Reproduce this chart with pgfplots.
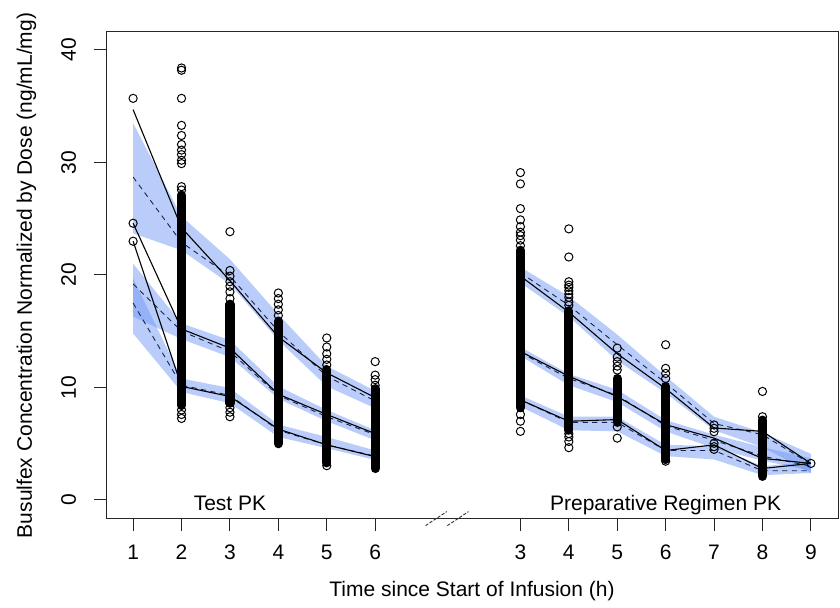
\documentclass[border=0pt]{standalone}
\usepackage{fontspec}
\setmainfont{Liberation Sans}
\usepackage{pgfplots}
\pgfplotsset{compat=1.18}
\usetikzlibrary{calc}
\definecolor{band}{RGB}{110,150,245}
\definecolor{dashc}{RGB}{25,35,80}

\begin{document}
\begin{tikzpicture}[font=\fontsize{10.5}{12.6}\selectfont]
\begin{axis}[name=ax, scale only axis, width=366pt, height=243.5pt,
  xmin=0.44, xmax=15.56, ymin=-1.69, ymax=41.6,
  xtick={1,2,3,4,5,6,9,10,11,12,13,14,15},
  xticklabels={1,2,3,4,5,6,3,4,5,6,7,8,9},
  ytick={0,10,20,30,40},
  tick align=outside, xtick pos=bottom, ytick pos=left,
  major tick length=6pt,
  axis line style={black!85, line width=0.5pt},
  every tick/.style={black!85, line width=0.5pt},
  /pgf/number format/assume math mode=true,
  xticklabel style={yshift=-14.5pt, anchor=base, inner sep=0pt},
  yticklabel style={xshift=-9pt, rotate=90, anchor=base, inner sep=0pt},
  unbounded coords=jump,
  clip=false,
]
% 90% CI bands, test PK
\addplot[fill=band, fill opacity=0.48, draw=none] coordinates {(1,33.5)(2,25.2)(3,21.4)(4,16.5)(5,11.9)(6,9.7)(6,8.15)(5,10.1)(4,14.2)(3,19.2)(2,22.2)(1,23.7)} -- cycle;
\addplot[fill=band, fill opacity=0.48, draw=none] coordinates {(1,21.0)(2,15.7)(3,14.2)(4,10.1)(5,8.0)(6,6.2)(6,5.3)(5,7.0)(4,9.0)(3,12.7)(2,14.3)(1,16.3)} -- cycle;
\addplot[fill=band, fill opacity=0.48, draw=none] coordinates {(1,19.7)(2,10.8)(3,9.95)(4,6.7)(5,5.6)(6,4.4)(6,3.55)(5,4.6)(4,5.6)(3,8.6)(2,9.6)(1,14.8)} -- cycle;
% 90% CI bands, preparative regimen PK
\addplot[fill=band, fill opacity=0.48, draw=none] coordinates {(9,20.7)(10,18.1)(11,14.7)(12,11.0)(13,7.4)(14,6.0)(15,4.1)(15,2.4)(14,4.7)(13,6.2)(12,9.5)(11,12.4)(10,16.3)(9,19.3)} -- cycle;
\addplot[fill=band, fill opacity=0.48, draw=none] coordinates {(9,13.6)(10,11.2)(11,9.8)(12,7.1)(13,5.8)(14,4.7)(15,3.7)(15,2.6)(14,3.5)(13,4.6)(12,6.1)(11,8.7)(10,10.2)(9,12.8)} -- cycle;
\addplot[fill=band, fill opacity=0.48, draw=none] coordinates {(9,9.3)(10,7.4)(11,7.4)(12,4.9)(13,4.8)(14,3.0)(15,3.4)(15,2.4)(14,2.2)(13,3.6)(12,3.9)(11,6.1)(10,6.2)(9,8.3)} -- cycle;

% predicted percentiles (dashed)
\addplot[dashc, line width=0.45pt, dash pattern=on 2.6pt off 2.2pt] coordinates {(1,28.7)(2,22.9)(3,19.9)(4,15.0)(5,11.0)(6,8.8)};
\addplot[dashc, line width=0.45pt, dash pattern=on 2.6pt off 2.2pt] coordinates {(1,19.2)(2,15.0)(3,13.2)(4,9.3)(5,7.4)(6,5.8)};
\addplot[dashc, line width=0.45pt, dash pattern=on 2.6pt off 2.2pt] coordinates {(1,17.5)(2,10.2)(3,9.3)(4,6.2)(5,4.9)(6,3.9)};
\addplot[dashc, line width=0.45pt, dash pattern=on 2.6pt off 2.2pt] coordinates {(9,20.2)(10,17.3)(11,13.8)(12,10.4)(13,6.8)(14,5.8)(15,3.2)};
\addplot[dashc, line width=0.45pt, dash pattern=on 2.6pt off 2.2pt] coordinates {(9,13.1)(10,10.8)(11,9.3)(12,6.6)(13,5.3)(14,3.9)(15,3.0)};
\addplot[dashc, line width=0.45pt, dash pattern=on 2.6pt off 2.2pt] coordinates {(9,8.9)(10,6.9)(11,6.9)(12,4.4)(13,4.4)(14,2.6)(15,2.6)};

% observed percentiles (solid)
\addplot[black, line width=0.55pt] coordinates {(1,34.7)(2,24.2)(3,19.5)(4,14.5)(5,11.3)(6,9.1)};
\addplot[black, line width=0.55pt] coordinates {(1,24.6)(2,15.2)(3,13.5)(4,9.4)(5,7.6)(6,5.9)};
\addplot[black, line width=0.55pt] coordinates {(1,23.0)(2,10.1)(3,9.2)(4,6.3)(5,4.9)(6,3.85)};
\addplot[black, line width=0.55pt] coordinates {(9,19.9)(10,16.7)(11,13.0)(12,9.9)(13,6.4)(14,6.1)(15,3.25)};
\addplot[black, line width=0.55pt] coordinates {(9,13.2)(10,11.0)(11,9.2)(12,6.7)(13,5.5)(14,3.7)(15,3.25)};
\addplot[black, line width=0.55pt] coordinates {(9,8.9)(10,7.0)(11,7.15)(12,4.4)(13,4.9)(14,2.8)(15,3.25)};

% observations: dense stacks of overlapping circles (low to high)
\addplot[black, line width=4.6pt, line cap=round] coordinates {
 (2,8.4)(2,27.1) (nan,nan) (3,8.6)(3,17.4) (nan,nan) (4,5.0)(4,15.9) (nan,nan)
 (5,3.3)(5,11.6) (nan,nan) (6,2.8)(6,9.9) (nan,nan)
 (9,8.2)(9,22.2) (nan,nan) (10,6.2)(10,16.8) (nan,nan) (11,6.9)(11,10.8) (nan,nan)
 (12,3.6)(12,10.1) (nan,nan) (14,2.1)(14,7.1)};
% observations: individual circles
\addplot[only marks, mark=o, mark size=2.05pt, mark options={line width=0.5pt, black}] coordinates {
 (1,35.7)(1,24.6)(1,23.0)
 (2,38.4)(2,38.2)(2,35.7)(2,33.3)(2,32.4)(2,31.6)(2,31.1)(2,30.7)(2,30.2)(2,29.9)(2,27.85)(2,27.55)(2,8.0)(2,7.6)(2,7.25)
 (3,23.85)(3,20.4)(3,19.9)(3,19.4)(3,19.0)(3,18.5)(3,17.9)(3,8.2)(3,7.8)(3,7.4)
 (4,18.4)(4,17.9)(4,17.4)(4,16.9)(4,16.4)
 (5,14.4)(5,13.6)(5,13.0)(5,12.5)(5,12.0)(5,3.05)
 (6,12.3)(6,11.1)(6,10.7)(6,10.2)
 (9,29.1)(9,28.1)(9,25.9)(9,24.9)(9,24.3)(9,23.8)(9,23.5)(9,23.1)(9,22.6)(9,7.6)(9,7.0)(9,6.1)
 (10,24.1)(10,21.6)(10,19.4)(10,19.1)(10,18.9)(10,18.6)(10,18.3)(10,18.0)(10,17.6)(10,17.3)(10,5.9)(10,5.6)(10,5.2)(10,4.65)
 (11,13.5)(11,12.7)(11,12.3)(11,11.9)(11,11.55)(11,6.5)(11,5.5)
 (12,13.8)(12,11.7)(12,11.25)(12,10.8)(12,3.45)
 (13,6.67)(13,6.37)(13,6.07)(13,5.04)(13,4.74)(13,4.5)
 (14,9.65)(14,7.4)
 (15,3.25)};

\node[anchor=base] at (axis cs:3,-0.95) {Test PK};
\node[anchor=base] at (axis cs:12,-0.95) {Preparative Regimen PK};
% axis break marks
\draw[black!80, line width=0.45pt, dash pattern=on 1.6pt off 0.8pt]
  ([xshift=-5.3pt,yshift=-3.3pt]axis cs:7.26,-1.69) -- ([xshift=5.3pt,yshift=3.7pt]axis cs:7.26,-1.69);
\draw[black!80, line width=0.45pt, dash pattern=on 1.6pt off 0.8pt]
  ([xshift=-5.3pt,yshift=-3.3pt]axis cs:7.71,-1.69) -- ([xshift=5.3pt,yshift=3.7pt]axis cs:7.71,-1.69);
\end{axis}
\node[anchor=base] at ($(ax.south)+(0,-38.85pt)$) {Time since Start of Infusion (h)};
\node[rotate=90, anchor=base] at ($(ax.west)+(-37pt,0)$) {Busulfex Concentration Normalized by Dose (ng/mL/mg)};
\path ($(ax.south west)+(-53pt,-42.5pt)$) rectangle ($(ax.north east)+(1pt,16pt)$);
\end{tikzpicture}
\end{document}
